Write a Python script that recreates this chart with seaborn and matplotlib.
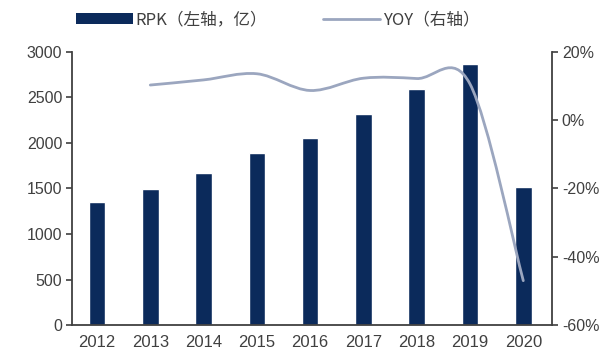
import numpy as np
import pandas as pd
import matplotlib
matplotlib.use("Agg")
import matplotlib.pyplot as plt
from matplotlib.path import Path
from matplotlib.patches import PathPatch
from matplotlib.lines import Line2D
from matplotlib.patches import Patch
from matplotlib.ticker import FuncFormatter
import seaborn as sns

years = ["2012", "2013", "2014", "2015", "2016", "2017", "2018", "2019", "2020"]
rpk = [1352, 1491, 1667, 1894, 2058, 2315, 2593, 2868, 1520]
yoy_years = ["2013", "2014", "2015", "2016", "2017", "2018", "2019", "2020"]
yoy = [10.3, 11.8, 13.6, 8.7, 12.3, 12.2, 10.6, -47.0]

bar_label = "RPK（左轴，亿）"
line_label = "YOY（右轴）"

BAR_COLOR = "#0b2a5b"
LINE_COLOR = "#9ba6bf"
SPINE_COLOR = "#404040"
TEXT_COLOR = "#404040"

sns.set_style("white")
plt.rcParams["font.family"] = ["Liberation Sans", "Noto Sans CJK SC", "DejaVu Sans"]

fig = plt.figure(figsize=(6.1, 3.58), dpi=100)
ax = fig.add_axes([0.118, 0.092, 0.787, 0.763])

df = pd.DataFrame({"year": years, "rpk": rpk})
sns.barplot(data=df, x="year", y="rpk", color=BAR_COLOR, width=0.31,
            saturation=1, ax=ax)
ax.set_xlim(-0.47, 8.54)
ax.set_ylim(0, 3000)
ax.set_yticks(np.arange(0, 3001, 500))
ax.set_xlabel("")
ax.set_ylabel("")

ax2 = ax.twinx()
ax2.set_ylim(-60, 20)
ax2.set_yticks([-60, -40, -20, 0, 20])
ax2.yaxis.set_major_formatter(FuncFormatter(lambda v, p: f"{int(v)}%"))

# smoothed YOY curve (Catmull-Rom segments as cubic Bezier in data coordinates)
xs = np.array([years.index(y) for y in yoy_years], dtype=float)
ys = np.array(yoy, dtype=float)
verts = [(xs[0], ys[0])]
codes = [Path.MOVETO]
n = len(xs)
for i in range(n - 1):
    p0 = np.array([xs[max(i - 1, 0)], ys[max(i - 1, 0)]])
    p1 = np.array([xs[i], ys[i]])
    p2 = np.array([xs[i + 1], ys[i + 1]])
    p3 = np.array([xs[min(i + 2, n - 1)], ys[min(i + 2, n - 1)]])
    c1 = p1 + (p2 - p0) / 6.0
    c2 = p2 - (p3 - p1) / 6.0
    verts += [tuple(c1), tuple(c2), tuple(p2)]
    codes += [Path.CURVE4] * 3
ax2.add_patch(PathPatch(Path(verts, codes), facecolor="none",
                        edgecolor=LINE_COLOR, lw=2.0, capstyle="round"))

for a in (ax, ax2):
    a.spines["top"].set_visible(False)
    for side in ("left", "bottom", "right"):
        a.spines[side].set_color(SPINE_COLOR)
        a.spines[side].set_linewidth(1.3)
    a.tick_params(colors=TEXT_COLOR, labelsize=11.5, length=4, width=1.2,
                  direction="out")
ax.spines["right"].set_visible(False)
ax2.spines["left"].set_visible(False)
ax2.spines["bottom"].set_visible(False)
ax.tick_params(axis="x", length=0, pad=7, labelsize=12)
ax.tick_params(axis="y", pad=3)
ax2.tick_params(axis="y", pad=3)

handles = [Patch(facecolor=BAR_COLOR, edgecolor="none"),
           Line2D([0], [0], color=LINE_COLOR, lw=2)]
fig.legend(handles, [bar_label, line_label], loc="upper left",
           bbox_to_anchor=(0.1, 1.01), ncol=2, frameon=False,
           handlelength=3.4, handleheight=0.6,
           columnspacing=3.4, handletextpad=0.15,
           labelcolor=TEXT_COLOR,
           prop={"family": ["Noto Sans CJK SC", "DejaVu Sans"], "size": 12})

fig.savefig("out.png", dpi=100, facecolor="white")
